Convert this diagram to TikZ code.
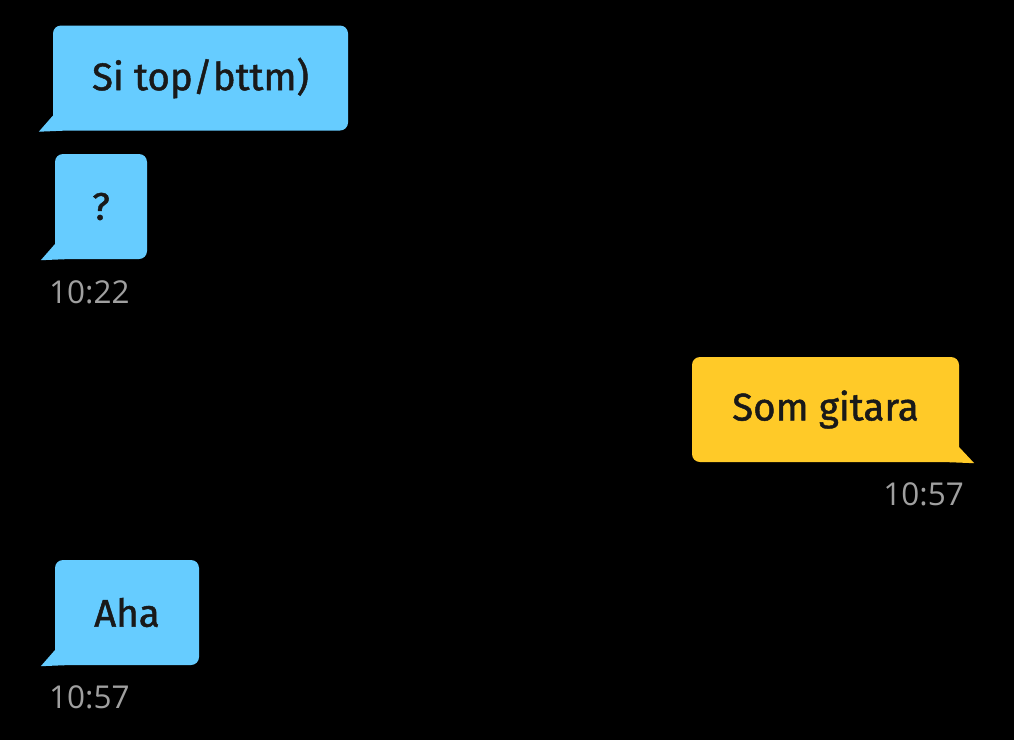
\documentclass[tikz,border=0pt]{standalone}
\usepackage{fontspec}
\setmainfont{Fira Sans}
\newfontfamily\msgfont[FakeBold=1.2]{Fira Sans}
\newfontfamily\stampfont{Open Sans}
\usetikzlibrary{calc, positioning}

\definecolor{theirs}{RGB}{102,204,255}
\definecolor{mine}{RGB}{255,202,40}
\definecolor{stamp}{RGB}{160,160,160}

\begin{document}
\begin{tikzpicture}[x=1pt, y=-1pt,
    bubble/.style={rectangle, rounded corners=8pt, inner sep=0pt, minimum height=105pt,
        text=black!90, font=\msgfont\fontsize{38.5}{44}\selectfont},
    inbox/.style={bubble, fill=theirs},
    outbox/.style={bubble, fill=mine},
    time/.style={inner sep=0pt, text=stamp, font=\stampfont\fontsize{31.5}{36}\selectfont}]
        \fill[black] (0,0) rectangle (1014,740);
        \useasboundingbox (0,0) rectangle (1014,740);

        \node[inbox, minimum width=295pt] (m_1) at (200.5,78) {Si top/bttm)};
        \fill[theirs] ($(m_1.south west)+(0,-15)$) -- ++(-14,16) -- ($(m_1.south west)+(10,0)$) -- cycle;

        \node[inbox, minimum width=92pt] (m_2) at (101,206.5) {?};
        \fill[theirs] ($(m_2.south west)+(0,-15)$) -- ++(-14,16) -- ($(m_2.south west)+(10,0)$) -- cycle;

        \node[time, anchor=west] (t_1) at (49,292) {10:22};

        \node[outbox, minimum width=267pt] (m_3) at (825.5,409.5) {Som gitara};
        \fill[mine] ($(m_3.south east)+(0,-15)$) -- ++(15,16) -- ($(m_3.south east)+(-10,0)$) -- cycle;

        \node[time, anchor=east] (t_2) at (964,494) {10:57};

        \node[inbox, minimum width=144pt] (m_4) at (127,612.5) {Aha};
        \fill[theirs] ($(m_4.south west)+(0,-15)$) -- ++(-14,16) -- ($(m_4.south west)+(10,0)$) -- cycle;

        \node[time, anchor=west] (t_3) at (49,697) {10:57};
\end{tikzpicture}
\end{document}
